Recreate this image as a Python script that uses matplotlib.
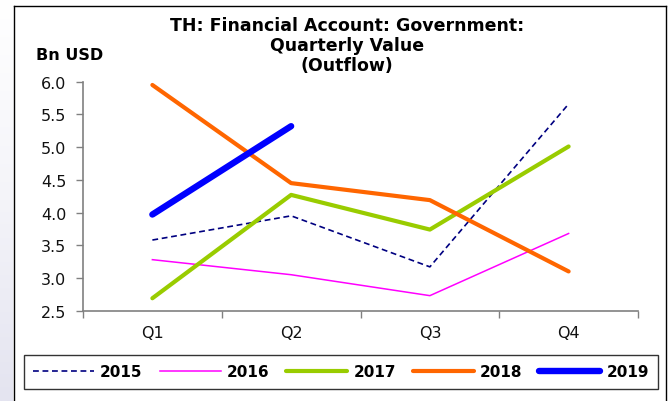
import numpy as np
import matplotlib
matplotlib.use("Agg")
import matplotlib.pyplot as plt
from matplotlib.lines import Line2D

plt.rcParams['font.family'] = ['DejaVu Sans']

quarters = ["Q1", "Q2", "Q3", "Q4"]
v2015 = [3.58, 3.95, 3.17, 5.66]
v2016 = [3.28, 3.05, 2.73, 3.68]
v2017 = [2.69, 4.27, 3.74, 5.01]
v2018 = [5.95, 4.45, 4.19, 3.10]
v2019 = [3.97, 5.32]
years = ["2015", "2016", "2017", "2018", "2019"]
y_ticks = [2.5, 3.0, 3.5, 4.0, 4.5, 5.0, 5.5, 6.0]

W, H = 669, 402
fig = plt.figure(figsize=(W / 100, H / 100), dpi=100)
fig.patch.set_facecolor("white")

# soft lavender strip down the left edge, fading out towards the top
grad = np.linspace(0, 1, 200).reshape(-1, 1)
bg = fig.add_axes([0, 0, 13 / W, 1], zorder=-5)
bg.imshow(grad, cmap=matplotlib.colors.LinearSegmentedColormap.from_list(
    "lav", ["#ffffff", "#f4f4f9", "#e4e4f0"]), aspect="auto", extent=[0, 1, 0, 1])
bg.set_axis_off()


def fx(px):
    return px / W


def fy(py):
    return 1 - py / H


# outer chart frame (open at the bottom)
frame_kw = dict(color="black", lw=1.0, transform=fig.transFigure, zorder=5)
fig.add_artist(Line2D([fx(13.5), fx(13.5)], [fy(7), -0.1], **frame_kw))
fig.add_artist(Line2D([fx(13.5), fx(665.5)], [fy(7), fy(7)], **frame_kw))
fig.add_artist(Line2D([fx(665.5), fx(665.5)], [fy(7), -0.1], **frame_kw))

ax = fig.add_axes([fx(83), fy(311.7), fx(638) - fx(83), fy(82.7) - fy(311.7)])
x = np.arange(len(quarters))

ax.plot(x, v2015, color="#000080", lw=1.2, ls=(0, (3.5, 2.2)), label=years[0])
ax.plot(x, v2016, color="#ff00ff", lw=1.1, label=years[1])
ax.plot(x, v2017, color="#99cc00", lw=3.0, solid_capstyle="round", label=years[2])
ax.plot(x, v2018, color="#ff6600", lw=3.0, solid_capstyle="round", label=years[3])
ax.plot(x[:len(v2019)], v2019, color="#0000ff", lw=4.6, solid_capstyle="round", label=years[4])

ax.set_xlim(-0.5, 3.5)
ax.set_ylim(2.5, 6.0)
ax.set_yticks(y_ticks)
ax.set_yticklabels([f"{v:.1f}" for v in y_ticks])
ax.set_xticks(x)
ax.set_xticklabels(quarters)
ax.set_xticks(np.arange(-0.5, 4.0, 1.0), minor=True)
ax.tick_params(axis="x", which="major", length=0, pad=10, labelsize=11.5, colors="#111111")
ax.tick_params(axis="x", which="minor", length=5, width=1, color="#808080", direction="out")
ax.tick_params(axis="y", length=5, width=1, color="#808080", pad=7, labelsize=11.5, labelcolor="#111111")
for s in ["top", "right"]:
    ax.spines[s].set_visible(False)
for s in ["left", "bottom"]:
    ax.spines[s].set_color("#808080")
    ax.spines[s].set_linewidth(1.2)
ax.patch.set_alpha(0)

fig.text(fx(347), fy(46), "TH: Financial Account: Government:\nQuarterly Value\n(Outflow)",
         ha="center", va="center", fontsize=12.5, fontweight="bold", linespacing=1.15)
fig.text(fx(36), fy(56), "Bn USD", ha="left", va="center", fontsize=11.5, fontweight="bold")

leg = fig.legend(loc="center", bbox_to_anchor=(fx(341), fy(373)), ncol=5,
                 frameon=True, fancybox=False, edgecolor="black",
                 prop={"weight": "bold", "size": 11},
                 handlelength=4.0, handletextpad=0.4, columnspacing=1.1,
                 borderpad=0.6, borderaxespad=0)
leg.get_frame().set_linewidth(1.0)

fig.savefig("out.png", dpi=100)
